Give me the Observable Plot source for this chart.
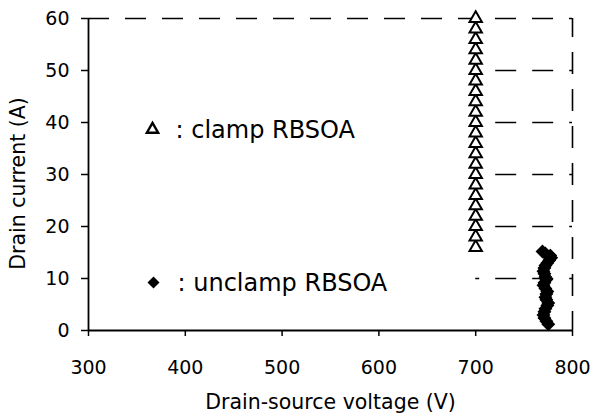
<!DOCTYPE html>
<html>
<head>
<meta charset="utf-8">
<script src="https://cdn.jsdelivr.net/npm/d3@7"></script>
<script src="https://cdn.jsdelivr.net/npm/@observablehq/plot@0.6"></script>
<style>
  html, body { margin: 0; padding: 0; background: #fff; }
</style>
</head>
<body>
<div id="chart"></div>
<script>
// ---- data ----
const xTicks = [300, 400, 500, 600, 700, 800];
const yTicks = [0, 10, 20, 30, 40, 50, 60];
const gridValues = [10, 20, 30, 40, 50];

// clamp RBSOA (open triangles), all at 700 V
const clampV = 700;
const clampI = [16, 18, 20, 22, 24, 26, 28, 30, 32, 34, 36, 38, 40, 42, 44, 46, 48, 50, 52, 54, 56, 58, 60];

// unclamp RBSOA (filled diamonds)
const unclampV = [769, 772, 777, 778, 776, 774, 772, 771, 770, 771, 772, 773, 771, 770, 772, 774, 773, 772, 773, 775, 774, 772, 771, 770, 771, 773, 775];
const unclampI = [15.2, 14.8, 14.4, 14.0, 13.5, 13.0, 12.5, 12.0, 11.4, 10.9, 10.3, 9.8, 9.2, 8.7, 8.1, 7.5, 7.0, 6.4, 5.9, 5.3, 4.8, 4.2, 3.6, 3.0, 2.4, 1.8, 1.2];

const legendLabels = [": clamp RBSOA", ": unclamp RBSOA"];
const xTitle = "Drain-source voltage (V)";
const yTitle = "Drain current (A)";

// ---- tables ----
const clampData = clampI.map(i => ({v: clampV, i}));
const unclampData = unclampV.map((v, k) => ({v, i: unclampI[k]}));
const xMin = xTicks[0], xMax = xTicks[xTicks.length - 1];
const yMin = yTicks[0], yMax = yTicks[yTicks.length - 1];

const font = "DejaVu Sans, Liberation Sans, sans-serif";

const chart = Plot.plot({
  width: 595,
  height: 419,
  marginLeft: 88,
  marginRight: 23,
  marginTop: 18,
  marginBottom: 89,
  style: {fontFamily: font, fontSize: "19px", color: "#000", background: "#fff"},
  x: {domain: [xMin, xMax]},
  y: {domain: [yMin, yMax]},
  marks: [
    // dashed partial gridlines on the right
    Plot.ruleY(gridValues, {x1: clampV, x2: xMax, stroke: "#000", strokeWidth: 1.6, strokeDasharray: "21,16", strokeDashoffset: 17}),
    // dashed top and right frame
    Plot.ruleY([yMax], {x1: xMin, x2: xMax, stroke: "#000", strokeWidth: 1.6, strokeDasharray: "21,16"}),
    Plot.ruleX([xMax], {y1: yMax, y2: yMin, stroke: "#000", strokeWidth: 1.6, strokeDasharray: "22,15", strokeDashoffset: 3}),
    // solid axes lines
    Plot.ruleY([yMin], {stroke: "#000", strokeWidth: 1.8}),
    Plot.ruleX([xMin], {stroke: "#000", strokeWidth: 1.8}),
    Plot.axisX({ticks: xTicks, tickSize: 6, tickPadding: 24, tickFormat: d => String(d), label: null, fontSize: 19, strokeWidth: 1.5}),
    Plot.axisY({ticks: yTicks, tickSize: 7, tickPadding: 12, tickFormat: d => String(d), label: null, fontSize: 19, strokeWidth: 1.5}),
    // data
    Plot.dot(clampData, {x: "v", y: "i", symbol: "triangle", r: 4.6, stroke: "#000", strokeWidth: 2, fill: "#fff"}),
    Plot.dot(unclampData, {x: "v", y: "i", symbol: "diamond2", r: 5.5, fill: "#000", stroke: "#000", strokeWidth: 1.2}),
    // legend
    Plot.dot([legendLabels[0]], {frameAnchor: "top-left", dx: 64, dy: 111, symbol: "triangle", r: 4.2, stroke: "#000", strokeWidth: 2.4, fill: "#fff"}),
    Plot.text([legendLabels[0]], {frameAnchor: "top-left", dx: 87, dy: 112, text: d => d, textAnchor: "start", lineAnchor: "middle", fontSize: 24, fill: "#000"}),
    Plot.dot([legendLabels[1]], {frameAnchor: "top-left", dx: 65, dy: 264, symbol: "diamond2", r: 5.4, fill: "#000"}),
    Plot.text([legendLabels[1]], {frameAnchor: "top-left", dx: 89, dy: 265, text: d => d, textAnchor: "start", lineAnchor: "middle", fontSize: 24, fill: "#000"}),
    // axis titles
    Plot.text([xTitle], {frameAnchor: "bottom", dy: 72, text: d => d, textAnchor: "middle", lineAnchor: "middle", fontSize: 20.5, fill: "#000"}),
    Plot.text([yTitle], {frameAnchor: "left", dx: -70, dy: 9, rotate: -90, text: d => d, textAnchor: "middle", lineAnchor: "middle", fontSize: 20.5, fill: "#000"})
  ]
});

document.getElementById("chart").appendChild(chart);
</script>
</body>
</html>
